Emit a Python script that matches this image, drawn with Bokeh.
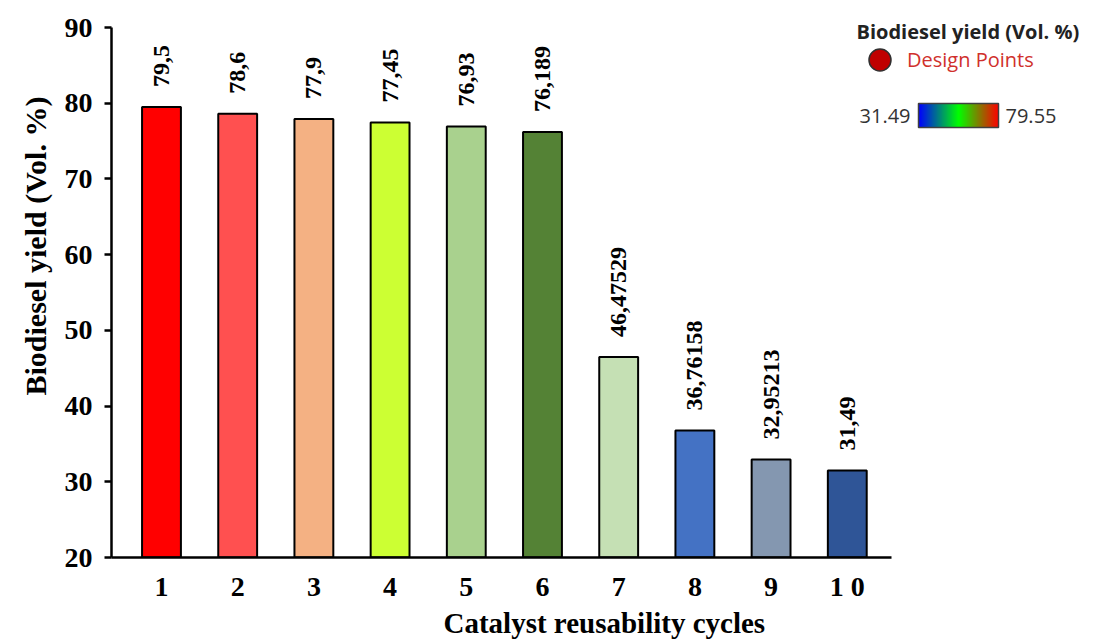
import numpy as np
from bokeh.plotting import figure
from bokeh.models import (ColumnDataSource, Label, Legend, LegendItem, ColorBar,
                          LinearColorMapper, FixedTicker, Range1d, Title)
from bokeh.embed import file_html
from bokeh.resources import INLINE

# ---- data ----
cycles = [1, 2, 3, 4, 5, 6, 7, 8, 9, 10]
yields = [79.5, 78.6, 77.9, 77.45, 76.93, 76.189, 46.47529, 36.76158, 32.95213, 31.49]
bar_colors = ["#FF0000", "#FF5050", "#F4B183", "#CCFF33", "#A9D18E",
              "#548235", "#C5E0B4", "#4472C4", "#8497B0", "#2F5597"]
y_ticks = [20, 30, 40, 50, 60, 70, 80, 90]
x_tick_labels = {10: "1 0"}
cbar_low, cbar_high = 31.49, 79.55

labels = [str(v).replace(".", ",") for v in yields]
src = ColumnDataSource(dict(x=cycles, top=yields, bottom=[20] * len(cycles),
                            color=bar_colors, label=labels))

SERIF = "Liberation Serif"
SANS = "Open Sans"

X0, X_AX_END, X1 = 0.344, 10.58, 13.205
Y0, Y_AX_END, Y1 = 20, 90, 92.906

p = figure(frame_width=980, frame_height=552,
           min_border_left=111, min_border_right=2,
           min_border_top=5, min_border_bottom=83,
           x_range=Range1d(X0, X1), y_range=Range1d(Y0, Y1),
           output_backend="svg", toolbar_location=None)

p.vbar(x="x", top="top", bottom="bottom", width=0.51, fill_color="color",
       line_color="black", line_width=2, source=src)
p.text(x="x", y="top", text="label", angle=np.pi / 2, text_align="left",
       text_baseline="middle", y_offset=-20, text_font=SERIF,
       text_font_style="bold", text_font_size="24px", text_color="black",
       source=src)

p.xgrid.visible = False
p.ygrid.visible = False
p.outline_line_color = None

for ax in (p.xaxis[0], p.yaxis[0]):
    ax.axis_line_width = 2.5
    ax.axis_line_color = "black"
    ax.major_tick_line_width = 2.5
    ax.major_tick_line_color = "black"
    ax.minor_tick_line_color = None
    ax.major_label_text_font = SERIF
    ax.major_label_text_font_style = "bold"
    ax.major_label_text_font_size = "28px"
    ax.major_label_text_color = "black"

p.yaxis.ticker = FixedTicker(ticks=y_ticks)
p.yaxis.bounds = (Y0, Y_AX_END)
p.yaxis.major_tick_out = 7
p.yaxis.major_tick_in = 0
p.yaxis.major_label_standoff = 12

p.xaxis.ticker = FixedTicker(ticks=cycles)
p.xaxis.bounds = (X0, X_AX_END)
p.xaxis.major_label_overrides = x_tick_labels
p.xaxis.major_tick_out = 0
p.xaxis.major_tick_in = 0
p.xaxis.major_label_standoff = 13

# axis titles (as Titles so they sit outside the frame)
p.add_layout(Title(text="Biodiesel yield (Vol. %)", align="left", offset=162,
                   vertical_align="bottom", standoff=20,
                   text_font=SERIF, text_font_style="bold",
                   text_font_size="30px", text_color="black"), "left")
p.add_layout(Title(text="Catalyst reusability cycles", align="left", offset=332,
                   vertical_align="top", standoff=4,
                   text_font=SERIF, text_font_style="bold",
                   text_font_size="29px", text_color="black"), "below")

# legend block (top right, inside the frame area)
p.add_layout(Label(x=745, y=526, x_units="screen", y_units="screen",
                   text="Biodiesel yield (Vol. %)", text_align="left",
                   text_baseline="middle", text_font=SANS,
                   text_font_style="bold", text_font_size="20px",
                   text_color="#222222"))

nan = float("nan")
dummy = p.scatter(x=[nan], y=[nan], marker="circle", size=22, fill_color="#C00000",
                  line_color="#303030", line_width=1.5)
leg = Legend(items=[LegendItem(label="Design Points", renderers=[dummy])],
             location=(741, 470), glyph_width=55, glyph_height=55,
             label_standoff=-2, padding=0, margin=0, border_line_color=None,
             background_fill_alpha=0, label_text_font=SANS,
             label_text_font_size="20px", label_text_color="#D0302C")
p.add_layout(leg)

# colour bar
n = 128
pal = []
for t in np.linspace(0, 1, n):
    if t < 0.5:
        s = t / 0.5
        r, g, b = 0, int(255 * s), int(255 * (1 - s))
    else:
        s = (t - 0.5) / 0.5
        r, g, b = int(255 * s), int(255 * (1 - s)), 0
    pal.append("#%02x%02x%02x" % (r, g, b))
mapper = LinearColorMapper(palette=pal, low=cbar_low, high=cbar_high)
cb = ColorBar(color_mapper=mapper, orientation="horizontal", width=80, height=24,
              location=(807, 430), padding=0, margin=0,
              ticker=FixedTicker(ticks=[]), major_tick_line_color=None,
              bar_line_color="#404040", bar_line_width=1.5,
              background_fill_alpha=0, border_line_color=None)
p.add_layout(cb)
p.add_layout(Label(x=799, y=442, x_units="screen", y_units="screen",
                   text=f"{cbar_low:.2f}", text_align="right",
                   text_baseline="middle", text_font=SANS,
                   text_font_size="20px", text_color="#333333"))
p.add_layout(Label(x=894, y=442, x_units="screen", y_units="screen",
                   text=f"{cbar_high:.2f}", text_align="left",
                   text_baseline="middle", text_font=SANS,
                   text_font_size="20px", text_color="#333333"))

open("out.html", "w").write(file_html(p, INLINE))
